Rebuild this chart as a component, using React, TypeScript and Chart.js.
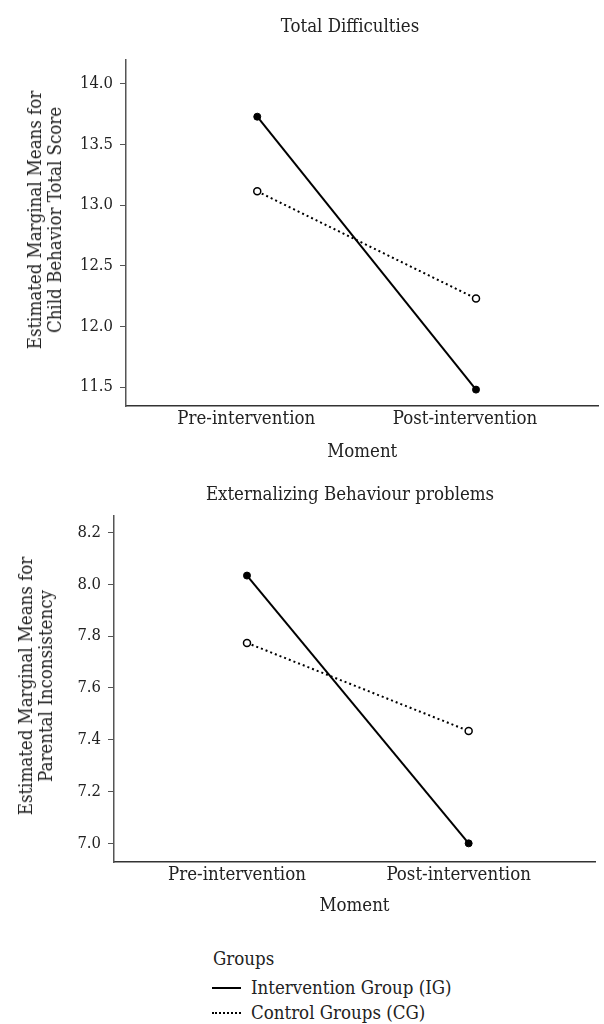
import React, { useEffect, useRef } from "react";
import { Chart, registerables } from "chart.js";

Chart.register(...registerables);

const categories = ["Pre-intervention", "Post-intervention"];
const groupNames = ["Intervention Group (IG)", "Control Groups (CG)"];

const panel1Title = "Total Difficulties";
const panel1YTitle = ["Estimated Marginal Means for", "Child Behavior Total Score"];
const panel1IG = [13.728, 11.48];
const panel1CG = [13.113, 12.23];
const panel1YTicks = [11.5, 12.0, 12.5, 13.0, 13.5, 14.0];

const panel2Title = "Externalizing Behaviour problems";
const panel2YTitle = ["Estimated Marginal Means for", "Parental Inconsistency"];
const panel2IG = [8.034, 7.0];
const panel2CG = [7.774, 7.434];
const panel2YTicks = [7.0, 7.2, 7.4, 7.6, 7.8, 8.0, 8.2];

const xTitle = "Moment";
const legendTitle = "Groups";

const FONT = "'DejaVu Serif Condensed', 'DejaVu Serif', serif";
const TEXT = "#222";
const AXIS = "#555";
const FS = 18.5;
const NUM_FS = 16.5;

type PanelCfg = {
  ig: number[];
  cg: number[];
  yTicks: number[];
  yMin: number;
  yMax: number;
  xMax: number;
  yAxisWidth: number;
  xAxisHeight: number;
  padTop: number;
  padRight: number;
  xTitlePadBottom: number;
  labelOffset: number;
};

function PanelChart({ cfg, width, height }: { cfg: PanelCfg; width: number; height: number }) {
  const ref = useRef<HTMLCanvasElement | null>(null);
  useEffect(() => {
    if (!ref.current) return;
    const toPts = (arr: number[]) => arr.map((v, i) => ({ x: i + 1, y: v }));
    const chart = new Chart(ref.current, {
      type: "line",
      data: {
        datasets: [
          {
            label: groupNames[0],
            data: toPts(cfg.ig),
            borderColor: "#000",
            backgroundColor: "#000",
            borderWidth: 2,
            pointRadius: 3.5,
            pointBackgroundColor: "#000",
            pointBorderColor: "#000",
            pointBorderWidth: 1,
          },
          {
            label: groupNames[1],
            data: toPts(cfg.cg),
            borderColor: "#000",
            backgroundColor: "#fff",
            borderWidth: 2,
            borderDash: [2, 3],
            pointRadius: 3.5,
            pointBackgroundColor: "#fff",
            pointBorderColor: "#000",
            pointBorderWidth: 1.5,
          },
        ],
      },
      options: {
        animation: false,
        responsive: false,
        maintainAspectRatio: false,
        layout: { padding: { top: cfg.padTop, right: cfg.padRight, left: 0, bottom: 0 } },
        plugins: { legend: { display: false }, tooltip: { enabled: false }, title: { display: false } },
        scales: {
          x: {
            type: "linear",
            min: 0.4,
            max: cfg.xMax,
            grid: { display: false, drawTicks: false },
            border: { display: true, color: "#333", width: 1.5 },
            afterBuildTicks: (s: any) => {
              s.ticks = categories.map((_, i) => ({ value: i + 1 }));
            },
            afterFit: (s: any) => {
              s.height = cfg.xAxisHeight;
            },
            ticks: {
              autoSkip: false,
              maxRotation: 0,
              padding: 2,
              labelOffset: cfg.labelOffset,
              color: TEXT,
              font: { family: FONT, size: FS },
              callback: (v: any) => categories[Math.round(Number(v)) - 1] ?? "",
            },
            title: {
              display: true,
              text: xTitle,
              color: TEXT,
              font: { family: FONT, size: FS, lineHeight: 1.2 },
              padding: { top: 0, bottom: cfg.xTitlePadBottom },
            },
          },
          y: {
            type: "linear",
            min: cfg.yMin,
            max: cfg.yMax,
            grid: { display: true, drawOnChartArea: false, drawTicks: true, tickLength: 6, color: AXIS },
            border: { display: true, color: AXIS, width: 1.5 },
            afterBuildTicks: (s: any) => {
              s.ticks = cfg.yTicks.map((v) => ({ value: v }));
            },
            afterFit: (s: any) => {
              s.width = cfg.yAxisWidth;
            },
            ticks: {
              padding: 7,
              color: TEXT,
              font: { family: FONT, size: NUM_FS },
              callback: (v: any) => Number(v).toFixed(1),
            },
            title: { display: false },
          },
        },
      },
    });
    return () => chart.destroy();
  }, [cfg]);
  return <canvas ref={ref} width={width} height={height} style={{ width, height, display: "block" }} />;
}

const cfg1: PanelCfg = {
  ig: panel1IG,
  cg: panel1CG,
  yTicks: panel1YTicks,
  yMin: 11.345,
  yMax: 14.195,
  xMax: 2.56,
  yAxisWidth: 126,
  xAxisHeight: 64,
  padTop: 60,
  padRight: 0,
  xTitlePadBottom: 7,
  labelOffset: -11,
};

const cfg2: PanelCfg = {
  ig: panel2IG,
  cg: panel2CG,
  yTicks: panel2YTicks,
  yMin: 6.928,
  yMax: 8.264,
  xMax: 2.57,
  yAxisWidth: 114,
  xAxisHeight: 68,
  padTop: 46,
  padRight: 9,
  xTitlePadBottom: 13,
  labelOffset: -10,
};

const textStyle: React.CSSProperties = {
  position: "absolute",
  fontFamily: FONT,
  fontSize: FS,
  color: TEXT,
  whiteSpace: "nowrap",
  lineHeight: "22px",
};

function YTitle({ lines, cx, cy }: { lines: string[]; cx: number; cy: number }) {
  return (
    <div
      style={{
        ...textStyle,
        left: cx,
        top: cy,
        lineHeight: "20px",
        textAlign: "center",
        transform: "translate(-50%, -50%) rotate(-90deg)",
      }}
    >
      {lines.map((l, i) => (
        <div key={i}>{l}</div>
      ))}
    </div>
  );
}

export default function App() {
  return (
    <div style={{ position: "absolute", left: 0, top: 0, width: 604, height: 1024, overflow: "hidden", background: "#fff" }}>
      <div style={{ position: "absolute", left: 0, top: 0 }}>
        <PanelChart cfg={cfg1} width={604} height={470} />
      </div>
      <div style={{ position: "absolute", left: 0, top: 470 }}>
        <PanelChart cfg={cfg2} width={604} height={460} />
      </div>
      <div style={{ ...textStyle, left: 350, top: 15, transform: "translateX(-50%)" }}>{panel1Title}</div>
      <div style={{ ...textStyle, left: 350, top: 483, transform: "translateX(-50%)" }}>{panel2Title}</div>
      <YTitle lines={panel1YTitle} cx={45} cy={220} />
      <YTitle lines={panel2YTitle} cx={36} cy={686} />
      <div style={{ ...textStyle, left: 213, top: 948 }}>{legendTitle}</div>
      <div style={{ ...textStyle, left: 212, top: 977, display: "flex", alignItems: "center" }}>
        <span style={{ display: "inline-block", width: 29, borderTop: "2px solid #000", marginRight: 10 }} />
        <span>{groupNames[0]}</span>
      </div>
      <div style={{ ...textStyle, left: 212, top: 1002, display: "flex", alignItems: "center" }}>
        <span style={{ display: "inline-block", width: 29, borderTop: "2px dotted #000", marginRight: 10 }} />
        <span>{groupNames[1]}</span>
      </div>
    </div>
  );
}
